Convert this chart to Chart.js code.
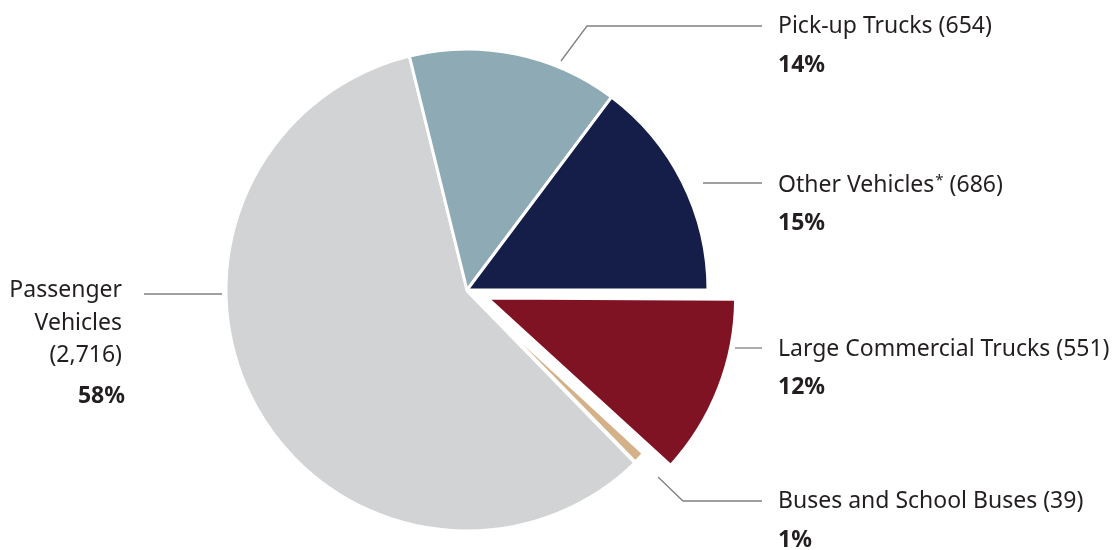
<!DOCTYPE html>
<html lang="en">
<head>
  <meta charset="UTF-8">
  <title>Vehicles by type</title>
  <script src="https://cdn.jsdelivr.net/npm/chart.js"></script>
  <style>
    html, body { margin: 0; padding: 0; background: #fff; }
    #wrap { width: 1114px; height: 550px; }
  </style>
</head>
<body>
  <div id="wrap"><canvas id="grafico" width="1114" height="550"></canvas></div>

  <script>
    // data (drawing order: passenger first, buses last so its white edge sits on top)
    const categories = ['Passenger Vehicles', 'Pick-up Trucks', 'Other Vehicles*', 'Large Commercial Trucks', 'Buses and School Buses'];
    const counts = [2716, 654, 686, 551, 39];
    const countLabels = ['(2,716)', '(654)', '(686)', '(551)', '(39)'];
    const percentLabels = ['58%', '14%', '15%', '12%', '1%'];

    const colors = ['#d1d3d4', '#8eabb5', '#151e48', '#7f1324', '#d5b18a'];
    const total = counts.reduce((a, b) => a + b, 0);
    // other vehicles ends at 3 o'clock; passenger starts after large trucks + buses
    const rotation = 90 + (counts[3] + counts[4]) / total * 360;

    const textColor = '#231f20';
    const lineColor = '#808080';
    const regFont = '23px "Noto Sans"';
    const boldFont = 'bold 23px "Noto Sans"';

    const labelsPlugin = {
      id: 'rotulos',
      afterDraw(chart) {
        const c = chart.ctx;
        c.save();
        c.strokeStyle = lineColor;
        c.lineWidth = 1.3;
        const linhas = [
          [[561, 61], [587, 26], [762, 26]],
          [[703, 183], [762, 183]],
          [[735, 348], [762, 348]],
          [[658, 477], [683, 501], [762, 501]],
          [[144, 294], [222, 294]]
        ];
        linhas.forEach(pts => {
          c.beginPath();
          c.moveTo(pts[0][0], pts[0][1]);
          for (let i = 1; i < pts.length; i++) c.lineTo(pts[i][0], pts[i][1]);
          c.stroke();
        });

        c.fillStyle = textColor;
        c.textBaseline = 'alphabetic';
        c.textAlign = 'left';
        const x = 778;

        // pick-up
        c.font = regFont;
        c.fillText(categories[1] + ' ' + countLabels[1], x, 33);
        c.font = boldFont;
        c.fillText(percentLabels[1], x, 72);

        // other vehicles with superscript star
        c.font = regFont;
        const base = categories[2].replace('*', '');
        c.fillText(base, x, 192);
        let w = c.measureText(base).width;
        c.font = '15px "Noto Sans"';
        c.fillText('*', x + w + 1, 185);
        w += c.measureText('*').width + 1;
        c.font = regFont;
        c.fillText(' ' + countLabels[2], x + w, 192);
        c.font = boldFont;
        c.fillText(percentLabels[2], x, 230);

        // large commercial
        c.font = regFont;
        c.fillText(categories[3] + ' ' + countLabels[3], x, 356);
        c.font = boldFont;
        c.fillText(percentLabels[3], x, 394);

        // buses
        c.font = regFont;
        c.fillText(categories[4] + ' ' + countLabels[4], x, 508);
        c.font = boldFont;
        c.fillText(percentLabels[4], x, 547);

        // passenger, right aligned
        c.textAlign = 'right';
        c.font = regFont;
        const partes = categories[0].split(' ');
        c.fillText(partes[0], 122, 297);
        c.fillText(partes[1], 122, 330);
        c.fillText(countLabels[0], 122, 362);
        c.font = boldFont;
        c.fillText(percentLabels[0], 125, 403);
        c.restore();
      }
    };

    const ctx = document.getElementById('grafico').getContext('2d');
    const chart = new Chart(ctx, {
      type: 'pie',
      data: {
        labels: categories,
        datasets: [{
          data: counts,
          backgroundColor: colors,
          borderColor: '#ffffff',
          borderWidth: [3, 3, 3, 3, 4],
          offset: [0, 0, 0, 88, 0]
        }]
      },
      options: {
        responsive: false,
        animation: false,
        rotation: rotation,
        radius: 241,
        layout: { padding: { left: 200, right: 380, top: 40, bottom: 10 } },
        plugins: {
          legend: { display: false },
          tooltip: { enabled: false }
        }
      },
      plugins: [labelsPlugin]
    });
  </script>
</body>
</html>
